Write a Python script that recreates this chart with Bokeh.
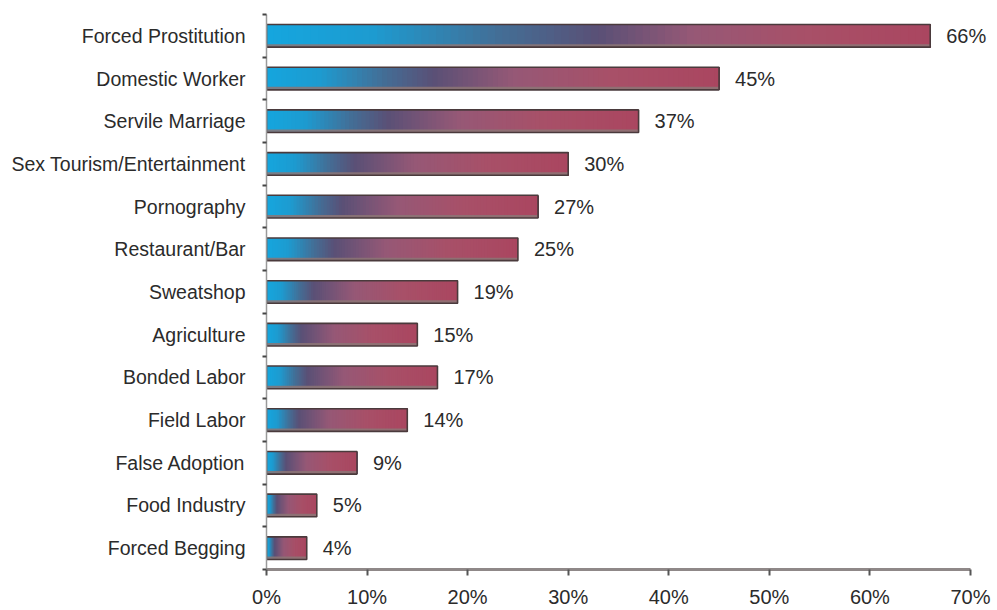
from bokeh.plotting import figure
from bokeh.models import Range1d, FixedTicker, ColumnDataSource, LabelSet, NumeralTickFormatter
from bokeh.core.properties import value
from bokeh.embed import file_html
from bokeh.resources import INLINE

categories = ["Forced Prostitution", "Domestic Worker", "Servile Marriage",
              "Sex Tourism/Entertainment", "Pornography", "Restaurant/Bar",
              "Sweatshop", "Agriculture", "Bonded Labor", "Field Labor",
              "False Adoption", "Food Industry", "Forced Begging"]
values = [66, 45, 37, 30, 27, 25, 19, 15, 17, 14, 9, 5, 4]
x_ticks = [0, 10, 20, 30, 40, 50, 60, 70]

FONT = "Liberation Sans"
TXT = "#2b2b2b"

n = len(categories)
ycen = [n - 1 - i + 0.5 for i in range(n)]
HALF = 0.265

# gradient stops (fraction along each bar -> colour)
stops = [(0.0, (21, 166, 222)), (0.15, (29, 155, 208)), (0.33, (67, 110, 150)),
         (0.47, (90, 80, 118)), (0.62, (150, 88, 118)), (0.8, (168, 80, 104)),
         (1.0, (170, 70, 96))]
MID = 0.47

def grad(f):
    for (f0, c0), (f1, c1) in zip(stops[:-1], stops[1:]):
        if f0 <= f <= f1:
            t = (f - f0) / (f1 - f0) if f1 > f0 else 0
            c = [round(a + (b - a) * t) for a, b in zip(c0, c1)]
            return "#%02x%02x%02x" % tuple(c)
    return "#%02x%02x%02x" % stops[-1][1]

def warp(f, pf):
    if f <= pf:
        return MID * f / pf
    return MID + (1 - MID) * (f - pf) / (1 - pf)

p = figure(width=997, height=610, output_backend="svg", toolbar_location=None,
           x_range=Range1d(0, 72.49), y_range=Range1d(0, n),
           min_border_left=266, min_border_right=2, min_border_top=14, min_border_bottom=38)
p.outline_line_color = None
p.grid.visible = False
p.background_fill_color = "white"

# gradient slices (each slice runs to the bar end, later ones on top)
vmax = max(values)
N = 90
L, R, B, T, C = [], [], [], [], []
for v, y in zip(values, ycen):
    pf = 0.2 + 0.3 * (v / vmax) ** 1.5
    for k in range(N):
        L.append(v * k / N)
        R.append(v)
        B.append(y - HALF)
        T.append(y + HALF)
        C.append(grad(warp((k + 0.5) / N, pf)))
p.quad(left=L, right=R, bottom=B, top=T, fill_color=C, line_color=None)

src = ColumnDataSource(dict(v=values, y=ycen,
                            l=[0] * n,
                            b=[y - HALF for y in ycen],
                            t=[y + HALF for y in ycen],
                            bb=[y - HALF + 0.07 for y in ycen],
                            lab=["%d%%" % v for v in values]))
# bottom shading band
p.quad(left="l", right="v", bottom="b", top="bb", source=src,
       fill_color="#8c7676", fill_alpha=0.85, line_color=None)
# outline
p.quad(left="l", right="v", bottom="b", top="t", source=src,
       fill_alpha=0, line_color="#4a3a3c", line_width=1.6)

labels = LabelSet(x="v", y="y", text="lab", source=src, x_offset=16,
                  text_baseline="middle", text_font=value(FONT), text_font_size="20px",
                  text_color=TXT)
p.add_layout(labels)

# axes
xa = p.xaxis[0]
xa.bounds = (0, 70)
xa.ticker = FixedTicker(ticks=x_ticks)
xa.formatter = NumeralTickFormatter(format="0")
xa.major_label_overrides = {t: "%d%%" % t for t in x_ticks}
xa.axis_line_color = "#8f8888"
xa.axis_line_width = 3
xa.major_tick_line_color = "#555555"
xa.major_tick_line_width = 2
xa.major_tick_out = 6
xa.major_tick_in = 0
xa.minor_tick_line_color = None
xa.major_label_text_font = FONT
xa.major_label_text_font_size = "20px"
xa.major_label_text_color = TXT
xa.major_label_standoff = 10

ya = p.yaxis[0]
ya.ticker = FixedTicker(ticks=ycen, minor_ticks=list(range(n + 1)))
ya.major_label_overrides = {y: c for y, c in zip(ycen, categories)}
ya.axis_line_color = "#9a9a9a"
ya.axis_line_width = 1.5
ya.major_tick_line_color = None
ya.minor_tick_line_color = "#444444"
ya.minor_tick_line_width = 2
ya.minor_tick_out = 4
ya.minor_tick_in = 0
ya.major_label_text_font = FONT
ya.major_label_text_font_size = "19.5px"
ya.major_label_text_color = TXT
ya.major_label_standoff = 15

open("out.html", "w").write(file_html(p, INLINE))
